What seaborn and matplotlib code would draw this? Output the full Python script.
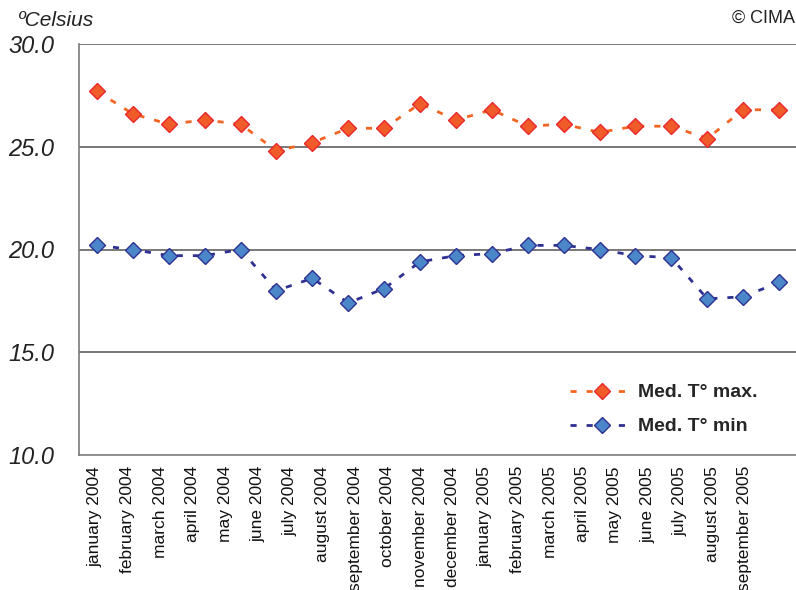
import matplotlib
matplotlib.use("Agg")
import matplotlib.pyplot as plt
import seaborn as sns
import numpy as np
import pandas as pd

# monthly mean temperatures (ºC)
months = ["january 2004", "february 2004", "march 2004", "april 2004", "may 2004",
          "june 2004", "july 2004", "august 2004", "september 2004", "october 2004",
          "november 2004", "december 2004", "january 2005", "february 2005", "march 2005",
          "april 2005", "may 2005", "june 2005", "july 2005", "august 2005"]
t_max = [27.7, 26.6, 26.1, 26.3, 26.1, 24.8, 25.2, 25.9, 25.9, 27.1,
         26.3, 26.8, 26.0, 26.1, 25.7, 26.0, 26.0, 25.4, 26.8, 26.8]
t_min = [20.2, 20.0, 19.7, 19.7, 20.0, 18.0, 18.6, 17.4, 18.1, 19.4,
         19.7, 19.8, 20.2, 20.2, 20.0, 19.7, 19.6, 17.6, 17.7, 18.4]
tick_labels = months + ["september 2005"]
y_ticks = [10.0, 15.0, 20.0, 25.0, 30.0]

sns.set_style("white")
plt.rcParams['font.family'] = ['Liberation Sans', 'DejaVu Sans']
plt.rcParams['lines.dashed_pattern'] = [2.2, 3.6]

df = pd.DataFrame({"mes": months, "tmax": t_max, "tmin": t_min})
df["pos"] = np.arange(len(df))

fig = plt.figure(figsize=(7.96, 5.90), dpi=100)
ax = fig.add_axes([79 / 796, 1 - 455 / 590, 718 / 796, 411 / 590])

sns.lineplot(data=df, x="pos", y="tmax", ax=ax, color="#F26522", lw=2,
             linestyle="--", marker="D", markersize=8.5,
             markerfacecolor="#F15A29", markeredgecolor="#E8282B", markeredgewidth=1,
             label="Med. T° max.")
sns.lineplot(data=df, x="pos", y="tmin", ax=ax, color="#2E3192", lw=2,
             linestyle="--", marker="D", markersize=8.5,
             markerfacecolor="#4A86C8", markeredgecolor="#2E3192", markeredgewidth=1,
             label="Med. T° min")

ax.set_xlim(-0.5, len(months) - 0.5)
ax.set_ylim(10, 30)

# horizontal grid lines
for v in y_ticks[1:]:
    ax.axhline(v, color="#6d6d6d", lw=1.3, zorder=0)

ax.set_yticks(y_ticks, labels=[f"{v:.1f}" for v in y_ticks], fontstyle="italic", fontsize=17)
ax.tick_params(axis="y", length=6, width=1, color="#7a7a7a", pad=12, labelcolor="#222222")

# category boundaries carry the tick marks, labels sit on their own spacing
ax.set_xticks(np.arange(-0.5, len(months), 1), minor=True)
ax.set_xticks(np.linspace(-0.05, 18.05, len(tick_labels)), labels=tick_labels,
              rotation=90, fontsize=12.5)
ax.tick_params(axis="x", which="major", length=0, pad=8, labelcolor="#111111")
ax.tick_params(axis="x", which="minor", length=6, width=1, color="#7a7a7a")

for s in ["top", "right"]:
    ax.spines[s].set_visible(False)
for s in ["left", "bottom"]:
    ax.spines[s].set_color("#7a7a7a")
    ax.spines[s].set_linewidth(1.2)

ax.set_xlabel("")
ax.set_ylabel("")

leg = ax.legend(loc="upper left", bbox_to_anchor=(560 / 796, 1 - 374 / 590),
                bbox_transform=fig.transFigure, frameon=False, handlelength=3.3,
                labelspacing=0.85, borderpad=0, handletextpad=0.2,
                prop={"weight": "bold", "size": 14})

fig.text(18 / 796, 1 - 20 / 590, "ºCelsius", fontstyle="italic", fontsize=15,
         va="center", ha="left", color="#222222")
fig.text(795 / 796, 1 - 18 / 590, "© CIMA", fontsize=13, va="center", ha="right",
         color="#222222")

fig.savefig("out.png", dpi=100)
